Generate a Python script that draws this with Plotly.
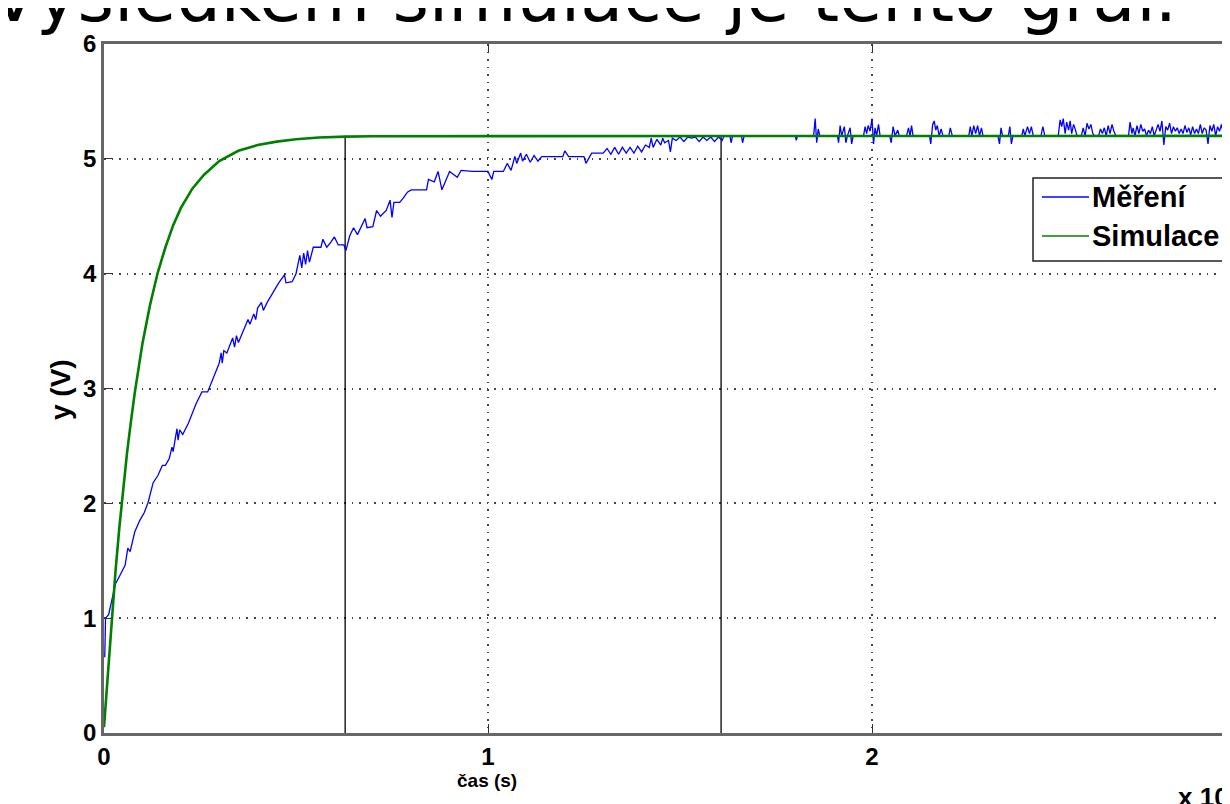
import plotly.graph_objects as go

# ---- data ----
title_text = "Výsledkem simulace je tento graf."
x_ticks = [0, 1, 2]
y_ticks = [0, 1, 2, 3, 4, 5, 6]
series_names = ["Měření", "Simulace"]
series_colors = ["#0000ff", "#008000"]

meas_t = [0.002, 0.004, 0.012, 0.02, 0.03, 0.035, 0.045, 0.055, 0.062, 0.068, 0.08, 0.093, 0.105, 0.115,
          0.128, 0.14, 0.152, 0.16, 0.17, 0.177, 0.18, 0.19, 0.193, 0.197, 0.205, 0.22, 0.24, 0.255, 0.27,
          0.285, 0.30, 0.305, 0.308, 0.312, 0.32, 0.335, 0.34, 0.345, 0.35, 0.365, 0.375, 0.38, 0.39, 0.395,
          0.40, 0.41, 0.415, 0.425, 0.44, 0.455, 0.47, 0.474, 0.49, 0.50, 0.51, 0.515, 0.52, 0.525, 0.53,
          0.535, 0.545, 0.555, 0.565, 0.57, 0.58, 0.59, 0.60, 0.61, 0.625, 0.63, 0.64, 0.65, 0.66, 0.68,
          0.685, 0.70, 0.71, 0.72, 0.735, 0.745, 0.75, 0.755, 0.77, 0.78, 0.79, 0.80, 0.84, 0.845, 0.86,
          0.87, 0.88, 0.90, 0.92, 0.93, 0.96, 1.0, 1.01, 1.015, 1.04, 1.05, 1.06, 1.07, 1.075, 1.085, 1.09,
          1.10, 1.11, 1.12, 1.13, 1.14, 1.16, 1.18, 1.195, 1.20, 1.21, 1.25, 1.255, 1.27, 1.30, 1.31, 1.32,
          1.33, 1.34, 1.35, 1.36, 1.37, 1.38, 1.39, 1.40, 1.41, 1.42, 1.425, 1.43, 1.44, 1.45, 1.455, 1.46,
          1.47, 1.475, 1.48, 1.49, 1.50, 1.51, 1.52, 1.53, 1.54, 1.55, 1.56, 1.57, 1.58, 1.59, 1.60, 1.61,
          1.615, 1.63, 1.633, 1.637, 1.66, 1.663, 1.667, 1.80, 1.803, 1.806,
          1.848, 1.852, 1.856, 1.86, 1.864,
          1.91, 1.913, 1.917, 1.921, 1.928, 1.932, 1.936, 1.943, 1.947, 1.951,
          1.978, 1.982, 1.986, 1.99, 1.995, 2.0, 2.004, 2.008, 2.012, 2.017, 2.021,
          2.046, 2.05, 2.055, 2.06, 2.067, 2.071,
          2.09, 2.095, 2.099, 2.103, 2.107,
          2.15, 2.153, 2.158, 2.162, 2.166, 2.17, 2.175, 2.18, 2.185,
          2.2, 2.204, 2.209,
          2.252, 2.256, 2.26, 2.265, 2.27, 2.275, 2.28, 2.285, 2.289,
          2.328, 2.332, 2.336, 2.34, 2.355, 2.359, 2.363, 2.367,
          2.39, 2.394, 2.398, 2.405, 2.41, 2.415, 2.42, 2.44, 2.445, 2.45,
          2.485, 2.49, 2.494, 2.498, 2.503, 2.507, 2.512, 2.516, 2.52, 2.525, 2.53, 2.534, 2.545, 2.55,
          2.555, 2.56, 2.565, 2.57, 2.575, 2.58, 2.59, 2.595, 2.6, 2.605, 2.61, 2.615, 2.62, 2.625, 2.63,
          2.635,
          2.668, 2.672, 2.677, 2.68, 2.685, 2.69, 2.695, 2.7, 2.705, 2.71, 2.715, 2.72, 2.725, 2.73, 2.735,
          2.74, 2.745, 2.75, 2.755, 2.76, 2.765, 2.77, 2.775, 2.78, 2.785, 2.79, 2.795, 2.8, 2.805, 2.81,
          2.815, 2.82, 2.825, 2.83, 2.835, 2.84, 2.845, 2.85, 2.855, 2.86, 2.865, 2.87, 2.875, 2.88, 2.885,
          2.89, 2.895, 2.9, 2.905, 2.91, 2.915, 2.92, 2.925, 2.96]
meas_y = [0.66, 1.0, 1.03, 1.16, 1.30, 1.33, 1.40, 1.46, 1.61, 1.58, 1.75, 1.85, 1.92, 2.01,
          2.18, 2.24, 2.33, 2.33, 2.39, 2.49, 2.45, 2.65, 2.55, 2.64, 2.60, 2.70, 2.87, 2.97, 2.97,
          3.10, 3.22, 3.31, 3.22, 3.33, 3.31, 3.44, 3.36, 3.46, 3.40, 3.52, 3.60, 3.56, 3.65, 3.60,
          3.70, 3.75, 3.68, 3.75, 3.84, 3.92, 3.99, 3.92, 3.93, 4.00, 4.16, 4.05, 4.18, 4.08, 4.20,
          4.10, 4.23, 4.23, 4.23, 4.30, 4.23, 4.27, 4.32, 4.25, 4.25, 4.20, 4.33, 4.40, 4.34, 4.48,
          4.40, 4.41, 4.55, 4.50, 4.55, 4.64, 4.49, 4.62, 4.62, 4.66, 4.71, 4.73, 4.73, 4.82, 4.80,
          4.89, 4.73, 4.89, 4.84, 4.90, 4.89, 4.89, 4.82, 4.89, 4.89, 4.96, 4.90, 5.02, 4.96, 5.05, 4.98,
          5.04, 4.97, 5.03, 4.98, 5.02, 5.02, 5.02, 5.02, 5.07, 5.02, 5.02, 4.96, 5.05, 5.05, 5.09, 5.04,
          5.10, 5.04, 5.10, 5.05, 5.10, 5.05, 5.11, 5.06, 5.12, 5.10, 5.18, 5.10, 5.17, 5.12, 5.18, 5.14,
          5.16, 5.06, 5.18, 5.16, 5.19, 5.15, 5.19, 5.18, 5.19, 5.15, 5.19, 5.16, 5.19, 5.15, 5.19, 5.16,
          5.20, 5.20, 5.14, 5.20, 5.20, 5.14, 5.20, 5.20, 5.16, 5.20,
          5.20, 5.35, 5.14, 5.26, 5.20,
          5.20, 5.14, 5.29, 5.20, 5.28, 5.14, 5.20, 5.27, 5.13, 5.20,
          5.20, 5.28, 5.22, 5.29, 5.24, 5.35, 5.13, 5.27, 5.20, 5.30, 5.20,
          5.20, 5.14, 5.28, 5.20, 5.25, 5.20,
          5.20, 5.27, 5.20, 5.29, 5.20,
          5.20, 5.13, 5.30, 5.33, 5.25, 5.29, 5.20, 5.26, 5.20,
          5.20, 5.27, 5.20,
          5.20, 5.28, 5.20, 5.29, 5.22, 5.29, 5.20, 5.27, 5.20,
          5.20, 5.13, 5.27, 5.20, 5.20, 5.28, 5.13, 5.20,
          5.20, 5.26, 5.20, 5.28, 5.22, 5.28, 5.20, 5.20, 5.28, 5.20,
          5.20, 5.34, 5.28, 5.35, 5.22, 5.32, 5.25, 5.33, 5.22, 5.30, 5.25, 5.20, 5.20, 5.27,
          5.20, 5.31, 5.26, 5.30, 5.22, 5.20, 5.20, 5.26, 5.22, 5.27, 5.20, 5.29, 5.22, 5.30, 5.24,
          5.20,
          5.20, 5.32, 5.22, 5.27, 5.20, 5.29, 5.22, 5.30, 5.24, 5.26, 5.20, 5.25, 5.22, 5.28, 5.20,
          5.26, 5.30, 5.24, 5.33, 5.12, 5.28, 5.25, 5.31, 5.22, 5.28, 5.24, 5.27, 5.22, 5.26, 5.22,
          5.29, 5.23, 5.27, 5.21, 5.28, 5.22, 5.26, 5.22, 5.30, 5.22, 5.27, 5.25, 5.13, 5.29, 5.24,
          5.30, 5.20, 5.28, 5.24, 5.30, 5.22, 5.32, 5.20, 5.20]

sim_t = [0.0, 0.01, 0.02, 0.03, 0.04, 0.05, 0.06, 0.07, 0.08, 0.10, 0.12, 0.14, 0.16, 0.18, 0.20,
         0.23, 0.26, 0.30, 0.35, 0.40, 0.45, 0.50, 0.56, 0.63, 0.70, 2.96]
sim_y = [0.05, 0.52, 0.99, 1.41, 1.79, 2.13, 2.44, 2.71, 2.96, 3.39, 3.73, 4.01, 4.23, 4.42, 4.57,
         4.74, 4.86, 4.98, 5.07, 5.12, 5.15, 5.17, 5.186, 5.193, 5.197, 5.20]

marker_t = [0.628, 1.607]
marker_top = 5.2

# ---- figure ----
OFF = 8  # page offset of the figure inside the browser window
W, H = 1230, 804
L, R, T, B = 104 - OFF, 0, 44 - OFF, 804 - (733 - OFF)
pw, ph = W - L - R, H - T - B


def px_x(p):
    """screen pixel x -> paper coordinate"""
    return (p - OFF - L) / pw


def px_y(p):
    """screen pixel y -> paper coordinate"""
    return (H - B - (p - OFF)) / ph


fig = go.Figure()

for mt in marker_t:
    fig.add_trace(go.Scatter(x=[mt, mt], y=[0, marker_top], mode="lines",
                             line=dict(color="black", width=1.3), showlegend=False,
                             hoverinfo="skip"))

fig.add_trace(go.Scatter(x=meas_t, y=meas_y, mode="lines", name=series_names[0],
                         line=dict(color=series_colors[0], width=1.3), showlegend=False))
fig.add_trace(go.Scatter(x=sim_t, y=sim_y, mode="lines", name=series_names[1],
                         line=dict(color=series_colors[1], width=2.6), showlegend=False))

axis_font = dict(family="Liberation Sans, Arial, sans-serif", size=24, color="black")

common_axis = dict(ticks="inside", ticklen=9, tickcolor="#333", tickwidth=1.2,
                   showline=True, linecolor="#666", linewidth=2.5, mirror="ticks",
                   showgrid=True, gridcolor="#444", griddash="1.5px,6px", gridwidth=1.5,
                   zeroline=False, tickfont=axis_font)

fig.update_layout(
    width=W, height=H,
    margin=dict(l=L, r=R, t=T, b=B, autoexpand=False),
    paper_bgcolor="white", plot_bgcolor="white",
    showlegend=False,
    xaxis=dict(range=[0, pw / 384.0], tickvals=x_ticks,
               ticktext=["<b>%d</b>" % v for v in x_ticks], **common_axis),
    yaxis=dict(range=[0, 6], tickvals=y_ticks,
               ticktext=["<b>%d</b>" % v for v in y_ticks], **common_axis),
)

# legend box (MATLAB style), drawn with shapes + annotations
fig.add_shape(type="rect", xref="paper", yref="paper",
              x0=px_x(1033), x1=px_x(1250), y0=px_y(261), y1=px_y(178),
              line=dict(color="#222", width=1.5), fillcolor="white", layer="above")
legend_rows = [197, 236]
for name, color, row in zip(series_names, series_colors, legend_rows):
    fig.add_shape(type="line", xref="paper", yref="paper",
                  x0=px_x(1042), x1=px_x(1089), y0=px_y(row), y1=px_y(row),
                  line=dict(color=color, width=1.6), layer="above")
    fig.add_annotation(x=px_x(1090), y=px_y(row), xref="paper", yref="paper",
                       xanchor="left", yanchor="middle", showarrow=False,
                       text="<b>%s</b>" % name,
                       font=dict(family="Liberation Sans, Arial, sans-serif", size=29,
                                 color="black"))

fig.add_annotation(x=px_x(-12), y=px_y(40), xref="paper", yref="paper",
                   xanchor="left", yanchor="bottom", showarrow=False,
                   text=title_text,
                   font=dict(family="DejaVu Sans, sans-serif", size=70, color="black"))

fig.add_annotation(x=px_x(60), y=px_y(390), xref="paper", yref="paper",
                   xanchor="center", yanchor="middle", showarrow=False, textangle=-90,
                   text="<b>y (V)</b>",
                   font=dict(family="Liberation Sans, Arial, sans-serif", size=28, color="black"))

fig.add_annotation(x=px_x(487), y=px_y(780), xref="paper", yref="paper",
                   xanchor="center", yanchor="middle", showarrow=False,
                   text="<b>čas (s)</b>",
                   font=dict(family="Liberation Sans, Arial, sans-serif", size=19, color="black"))

fig.add_annotation(x=px_x(1176), y=px_y(797), xref="paper", yref="paper",
                   xanchor="left", yanchor="middle", showarrow=False,
                   text="<b>x 10</b>",
                   font=dict(family="Liberation Sans, Arial, sans-serif", size=26, color="black"))

fig.write_html("out.html")
